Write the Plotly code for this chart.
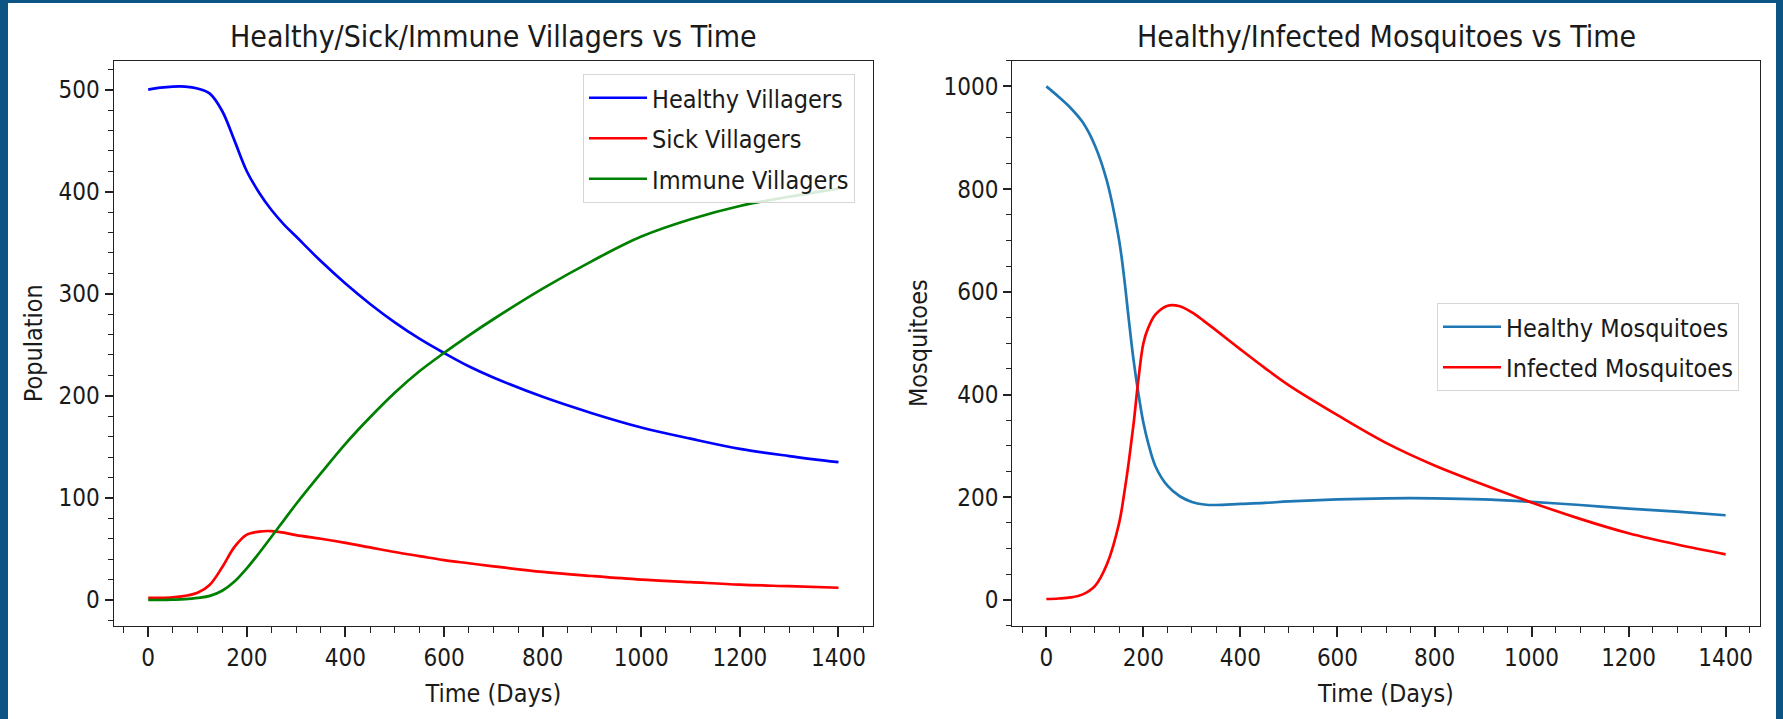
import plotly.graph_objects as go

W, H = 1783, 719

# ---------------- data ----------------
t_vill = [0, 25, 50, 75, 100, 125, 150, 175, 200, 225, 250, 275, 300, 350, 400, 450,
          500, 550, 600, 650, 700, 800, 900, 1000, 1100, 1200, 1300, 1400]
healthy_vill = [500, 502, 503, 503, 501, 496, 479, 450, 420, 399, 382, 368, 356, 332, 310, 290,
                272, 256, 242, 229, 218, 199, 183, 169, 158, 148, 141, 135]
sick_vill = [2, 2, 2.5, 4, 7, 15, 32, 52, 64, 67, 67.5, 66, 63.5, 60, 56, 51.5,
             47, 43, 39, 36, 33, 27.5, 23.5, 20, 17.5, 15, 13.5, 12]
immune_vill = [0, 0, 0.3, 0.8, 2, 4, 9, 18, 31, 46, 62, 78, 94, 124, 153, 179,
               203, 224, 242, 259, 275, 305, 332, 356, 373, 386, 395, 403]

t_mosq = [0, 25, 50, 75, 100, 125, 150, 160, 170, 180, 190, 200, 210, 225, 250, 275,
          300, 325, 350, 400, 450, 500, 600, 700, 800, 900, 1000, 1100, 1200, 1300, 1400]
healthy_mosq = [1000, 980, 958, 930, 885, 815, 700, 630, 545, 465, 400, 345, 305, 260, 222, 202,
                191, 186, 185, 187, 189, 192, 196, 198, 198, 196, 191, 185, 178, 172, 165]
infected_mosq = [2, 3, 5, 11, 27, 70, 150, 205, 270, 345, 432, 500, 530, 556, 573, 572,
                 560, 543, 525, 488, 452, 418, 360, 306, 262, 225, 190, 158, 130, 108, 89]

x_ticks = [0, 200, 400, 600, 800, 1000, 1200, 1400]
y1_ticks = [0, 100, 200, 300, 400, 500]
y2_ticks = [0, 200, 400, 600, 800, 1000]

# ---------------- style ----------------
FONT = "DejaVu Sans Condensed, DejaVu Sans, sans-serif"
TXT = "#1a1a1a"
AX = "#222222"
BORDER = "#0b5483"

def px_x(p):
    return p / W

def px_y(p):
    return 1 - p / H

fig = go.Figure()

lw = 2.7
SM = 1.0
fig.add_trace(go.Scatter(x=t_vill, y=healthy_vill, mode="lines", name="Healthy Villagers",
                         line=dict(color="#0000ff", width=lw, shape="spline", smoothing=SM),
                         xaxis="x", yaxis="y", legend="legend", legendgroup="g0"))
fig.add_trace(go.Scatter(x=t_vill, y=sick_vill, mode="lines", name="Sick Villagers",
                         line=dict(color="#ff0000", width=lw, shape="spline", smoothing=SM),
                         xaxis="x", yaxis="y", legend="legend", legendgroup="g1"))
fig.add_trace(go.Scatter(x=t_vill, y=immune_vill, mode="lines", name="Immune Villagers",
                         line=dict(color="#008000", width=lw, shape="spline", smoothing=SM),
                         xaxis="x", yaxis="y", legend="legend", legendgroup="g2"))
fig.add_trace(go.Scatter(x=t_mosq, y=healthy_mosq, mode="lines", name="Healthy Mosquitoes",
                         line=dict(color="#1f77b4", width=lw, shape="spline", smoothing=SM),
                         xaxis="x2", yaxis="y2", legend="legend2", legendgroup="g3"))
fig.add_trace(go.Scatter(x=t_mosq, y=infected_mosq, mode="lines", name="Infected Mosquitoes",
                         line=dict(color="#ff0000", width=lw, shape="spline", smoothing=SM),
                         xaxis="x2", yaxis="y2", legend="legend2", legendgroup="g4"))

tickfont = dict(family=FONT, size=24, color=TXT)
titlefont = dict(family=FONT, size=25, color=TXT)

def xaxis_cfg(domain, anchor):
    return dict(domain=domain, anchor=anchor, range=[-70, 1470],
                tickmode="array", tickvals=x_ticks, ticks="outside", ticklen=10,
                tickwidth=1.5, tickcolor=AX, showline=True, linecolor=AX, linewidth=1.4,
                mirror=True, showgrid=False, zeroline=False, tickfont=tickfont,
                minor=dict(dtick=50, tick0=0, ticks="outside", ticklen=6, tickwidth=1.2,
                           tickcolor=AX, showgrid=False),
                title=dict(text="Time (Days)", font=titlefont, standoff=13),
                automargin=False)

def yaxis_cfg(domain, anchor, rng, tv, mdt, title):
    return dict(domain=domain, anchor=anchor, range=rng,
                tickmode="array", tickvals=tv, ticks="outside", ticklen=8,
                tickwidth=1.5, tickcolor=AX, showline=True, linecolor=AX, linewidth=1.4,
                mirror=True, showgrid=False, zeroline=False, tickfont=tickfont,
                minor=dict(dtick=mdt, tick0=0, ticks="outside", ticklen=5, tickwidth=1.2,
                           tickcolor=AX, showgrid=False),
                title=dict(text=title, font=titlefont, standoff=8),
                automargin=False)

ydom = [px_y(625.7), px_y(60.7)]
legend_common = dict(xanchor="left", yanchor="top",
                     bgcolor="rgba(255,255,255,0.85)", bordercolor="#d6d6d6", borderwidth=1,
                     font=dict(family=FONT, size=25, color=TXT), tracegroupgap=5,
                     itemwidth=58)
fig.update_layout(
    width=W, height=H,
    margin=dict(l=0, r=0, t=0, b=0),
    paper_bgcolor=BORDER, plot_bgcolor="white",
    font=dict(family=FONT, color=TXT),
    xaxis=xaxis_cfg([px_x(113.7), px_x(873)], "y"),
    yaxis=yaxis_cfg(ydom, "x", [-25.2, 528.3], y1_ticks, 20, "Population"),
    xaxis2=xaxis_cfg([px_x(1012.4), px_x(1759.6)], "y2"),
    yaxis2=yaxis_cfg(ydom, "x2", [-50, 1050], y2_ticks, 50, "Mosquitoes"),
    legend=dict(x=px_x(583), y=px_y(74), **legend_common),
    legend2=dict(x=px_x(1437), y=px_y(303), **legend_common),
    showlegend=True,
    shapes=[dict(type="rect", xref="paper", yref="paper", layer="below",
                 x0=px_x(8), x1=px_x(1776), y0=-0.01, y1=px_y(3),
                 fillcolor="white", line=dict(width=0))],
    annotations=[
        dict(text="Healthy/Sick/Immune Villagers vs Time", xref="paper", yref="paper",
             x=px_x(493), y=px_y(36), xanchor="center", yanchor="middle", showarrow=False,
             font=dict(family=FONT, size=30, color=TXT)),
        dict(text="Healthy/Infected Mosquitoes vs Time", xref="paper", yref="paper",
             x=px_x(1386), y=px_y(36), xanchor="center", yanchor="middle", showarrow=False,
             font=dict(family=FONT, size=30, color=TXT)),
    ],
)

fig.write_html("out.html")
